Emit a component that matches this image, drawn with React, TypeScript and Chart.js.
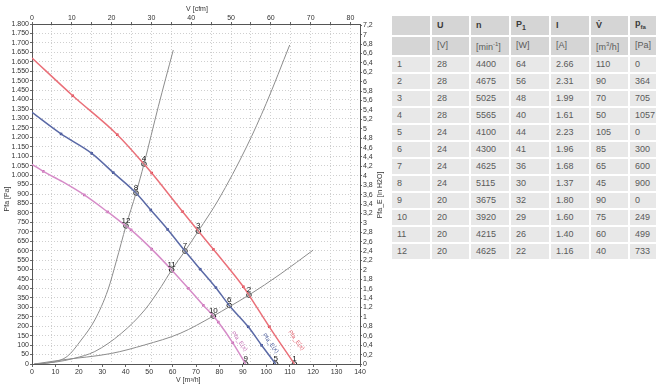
import React, { useEffect, useRef } from 'react';
import { Chart, registerables } from 'chart.js';

Chart.register(...registerables);

const PA_PER_INH2O = 249.0889;
const M3H_PER_CFM = 1.699;

// Fan curves (flow m³/h, static pressure Pa)
const redCurveFlow = [0, 17.4, 36.4, 47.8, 51.1, 64.3, 71, 77.4, 90.2, 92.6, 101.3, 112];
const redCurvePa = [1620, 1420, 1214, 1059, 1011, 806, 704, 607, 409, 365, 197, 0];
const redMarkFlow = [17.4, 36.4, 51.1, 64.3, 77.4, 90.2, 101.3];
const redMarkPa = [1420, 1214, 1011, 806, 607, 409, 197];

const blueCurveFlow = [0, 12.4, 25.5, 34.7, 44.4, 50.7, 57.9, 65.3, 71.8, 78.5, 84.2, 92.3, 98, 104];
const blueCurvePa = [1332, 1218, 1115, 1013, 905, 815, 712, 598, 502, 404, 310, 197, 99, 0];
const blueMarkFlow = [12.4, 25.5, 34.7, 50.7, 57.9, 71.8, 78.5, 92.3, 98];
const blueMarkPa = [1218, 1115, 1013, 815, 712, 502, 404, 197, 99];

const pinkCurveFlow = [0, 4.8, 13, 22.3, 32.3, 40.1, 42.3, 51.1, 59.6, 66.7, 73.1, 77.4, 79.5, 85.7, 91.2];
const pinkCurvePa = [1057, 1020, 965, 895, 805, 731, 710, 608, 498, 401, 311, 254, 222, 112, 0];
const pinkMarkFlow = [4.8, 22.3, 32.3, 42.3, 51.1, 66.7, 73.1, 79.5, 85.7];
const pinkMarkPa = [1020, 895, 805, 710, 608, 401, 311, 222, 112];

// System (resistance) curves
const sysAFlow = [1, 8, 15, 21, 26.8, 32.4, 36, 40.1, 44.4, 47.8, 53.9, 60.3];
const sysAPa = [0, 8, 40, 127, 233, 392, 545, 731, 905, 1059, 1362, 1662];
const sysBFlow = [1, 10, 18, 26.8, 38.1, 48.1, 55.2, 59.6, 65.3, 71, 79.5, 91.6, 100, 110];
const sysBPa = [0, 10, 30, 66, 162, 286, 410, 498, 598, 704, 868, 1150, 1380, 1689];
const sysCFlow = [1, 12.5, 33.9, 48.1, 63.2, 77.4, 84.2, 92.6, 105.9, 120];
const sysCPa = [0, 21, 56, 101, 162, 254, 303, 365, 475, 603];

// Operating points
const opLabels = ['1', '2', '3', '4', '5', '6', '7', '8', '9', '10', '11', '12'];
const opFlow = [112, 92.6, 71, 47.8, 104, 84.2, 65.3, 44.4, 91.2, 77.4, 59.6, 40.1];
const opPa = [0, 365, 704, 1059, 0, 310, 598, 905, 0, 254, 498, 731];

// Curve name labels
const curveNames = ['Pfa_E(x)', 'Pfa_E(x)', 'Pfa_E(x)'];
const curveNameFlow = [88.5, 101.8, 112.8];
const curveNamePa = [120, 110, 125];

// Table
const tableNo = ['1', '2', '3', '4', '5', '6', '7', '8', '9', '10', '11', '12'];
const tableU = [28, 28, 28, 28, 24, 24, 24, 24, 20, 20, 20, 20];
const tableN = [4400, 4675, 5025, 5565, 4100, 4300, 4625, 5115, 3675, 3920, 4215, 4625];
const tableP1 = [64, 56, 48, 40, 44, 41, 36, 30, 32, 29, 26, 22];
const tableI = ['2.66', '2.31', '1.99', '1.61', '2.23', '1.96', '1.68', '1.37', '1.80', '1.60', '1.40', '1.16'];
const tableV = [110, 90, 70, 50, 105, 85, 65, 45, 90, 75, 60, 40];
const tablePfa = [0, 364, 705, 1057, 0, 300, 600, 900, 0, 249, 499, 733];

const FONT = "'Liberation Sans', Arial, sans-serif";

const pts = (xs: number[], ys: number[]) => xs.map((x, i) => ({ x, y: ys[i] }));

const fmtPa = (v: number) => {
  const r = Math.round(v);
  if (r >= 1000) return Math.floor(r / 1000) + '.' + String(r % 1000).padStart(3, '0');
  return String(r);
};
const fmtIn = (v: number) => String(Math.round(v * 10) / 10).replace('.', ',');

const overlayPlugin = {
  id: 'overlay',
  afterDatasetsDraw(chart: any) {
    const { ctx } = chart;
    const xs = chart.scales.x;
    const ys = chart.scales.y;
    ctx.save();
    ctx.fillStyle = '#111';
    ctx.font = `8px ${FONT}`;
    ctx.textAlign = 'center';
    ctx.textBaseline = 'alphabetic';
    opLabels.forEach((l, i) => {
      const px = xs.getPixelForValue(opFlow[i]);
      const py = ys.getPixelForValue(opPa[i]);
      ctx.fillText(l, px, py - 3);
    });
    const colors = ['#c46fb5', '#4b5c9c', '#e0606c'];
    ctx.font = `6px ${FONT}`;
    curveNames.forEach((n, i) => {
      const px = xs.getPixelForValue(curveNameFlow[i]);
      const py = ys.getPixelForValue(curveNamePa[i]);
      ctx.save();
      ctx.translate(px, py);
      ctx.rotate((53 * Math.PI) / 180);
      ctx.fillStyle = colors[i];
      ctx.textAlign = 'center';
      ctx.textBaseline = 'middle';
      ctx.fillText(n, 0, 0);
      ctx.restore();
    });
    ctx.restore();
  },
  afterDraw(chart: any) {
    const { ctx } = chart;
    ctx.save();
    ctx.fillStyle = '#333';
    ctx.font = `7px ${FONT}`;
    ctx.textBaseline = 'middle';
    ctx.textAlign = 'center';
    ctx.fillText('V [cfm]', 197, 9);
    ctx.textAlign = 'left';
    ctx.fillText('V [m³/h]', 176, 380);
    ctx.textAlign = 'center';
    ctx.save();
    ctx.translate(7, 199);
    ctx.rotate(-Math.PI / 2);
    ctx.fillText('Pfa [Pa]', 0, 0);
    ctx.restore();
    ctx.save();
    ctx.translate(380, 195);
    ctx.rotate(-Math.PI / 2);
    ctx.fillText('Pfa_E [in H2O]', 0, 0);
    ctx.restore();
    ctx.restore();
  },
};

function FanChart() {
  const ref = useRef<HTMLCanvasElement>(null);
  useEffect(() => {
    if (!ref.current) return;
    const tickFont = { family: FONT, size: 7 };
    const lineDs = (label: string, xs: number[], ys: number[], color: string, width: number) => ({
      label,
      data: pts(xs, ys),
      showLine: true,
      borderColor: color,
      backgroundColor: color,
      borderWidth: width,
      pointRadius: 0,
      tension: 0.35,
      cubicInterpolationMode: 'monotone' as const,
    });
    const markDs = (label: string, xs: number[], ys: number[], color: string) => ({
      label,
      data: pts(xs, ys),
      showLine: false,
      pointStyle: 'rect' as const,
      pointRadius: 1.8,
      borderWidth: 0,
      backgroundColor: color,
      borderColor: color,
    });
    const chart = new Chart(ref.current, {
      type: 'scatter',
      data: {
        datasets: [
          lineDs('sysA', sysAFlow, sysAPa, '#8c8c8c', 1),
          lineDs('sysB', sysBFlow, sysBPa, '#8c8c8c', 1),
          lineDs('sysC', sysCFlow, sysCPa, '#8c8c8c', 1),
          lineDs('20 V', pinkCurveFlow, pinkCurvePa, '#d68cc8', 1.5),
          lineDs('24 V', blueCurveFlow, blueCurvePa, '#5a69a6', 1.5),
          lineDs('28 V', redCurveFlow, redCurvePa, '#ea6f78', 1.5),
          markDs('20 V m', pinkMarkFlow, pinkMarkPa, '#c45aac'),
          markDs('24 V m', blueMarkFlow, blueMarkPa, '#3a4a96'),
          markDs('28 V m', redMarkFlow, redMarkPa, '#d83a48'),
          {
            label: 'op',
            data: pts(opFlow, opPa),
            showLine: false,
            pointStyle: 'circle',
            pointRadius: 2.3,
            borderWidth: 1,
            borderColor: '#222',
            backgroundColor: 'rgba(255,255,255,0.9)',
          },
        ],
      },
      options: {
        animation: false,
        responsive: false,
        maintainAspectRatio: false,
        layout: { padding: 0, autoPadding: false },
        plugins: { legend: { display: false }, tooltip: { enabled: false } },
        scales: {
          x: {
            type: 'linear',
            position: 'bottom',
            min: 0,
            max: 140,
            afterFit: (s: any) => { s.height = 21; },
            ticks: { stepSize: 10, font: tickFont, color: '#333', padding: 1, maxRotation: 0, autoSkip: false, includeBounds: false },
            grid: { drawOnChartArea: false, tickLength: 3, color: '#666', tickColor: '#666' },
            border: { display: true, color: '#555', width: 1 },
          },
          x2: {
            type: 'linear',
            position: 'top',
            min: 0,
            max: 140 / M3H_PER_CFM,
            afterFit: (s: any) => { s.height = 24; },
            ticks: {
              stepSize: 5,
              font: tickFont,
              color: '#333',
              padding: 0,
              maxRotation: 0,
              autoSkip: false,
              includeBounds: false,
              callback: (v: any) => (Math.round(v) % 10 === 0 ? String(Math.round(v)) : ''),
            },
            grid: { drawOnChartArea: true, color: '#cfcfcf', tickLength: 2, tickColor: '#666', lineWidth: 1 },
            border: { display: true, color: '#555', width: 1, dash: [1, 2] },
          },
          y: {
            type: 'linear',
            position: 'left',
            min: 0,
            max: 1800,
            afterFit: (s: any) => { s.width = 32; },
            ticks: { stepSize: 50, font: tickFont, color: '#333', padding: 1, autoSkip: false, includeBounds: false, callback: (v: any) => fmtPa(Number(v)) },
            grid: { drawOnChartArea: true, color: '#cfcfcf', tickLength: 2, tickColor: '#666' },
            border: { display: true, color: '#555', width: 1, dash: [1, 2] },
          },
          y2: {
            type: 'linear',
            position: 'right',
            min: 0,
            max: 1800 / PA_PER_INH2O,
            afterFit: (s: any) => { s.width = 25; },
            ticks: { stepSize: 0.2, font: tickFont, color: '#333', padding: 1, autoSkip: false, includeBounds: false, callback: (v: any) => fmtIn(Number(v)) },
            grid: { drawOnChartArea: false, tickLength: 2, color: '#666', tickColor: '#666' },
            border: { display: true, color: '#555', width: 1 },
          },
        },
      } as any,
      plugins: [overlayPlugin],
    });
    return () => chart.destroy();
  }, []);
  return <canvas ref={ref} width={385} height={385} style={{ position: 'absolute', left: 0, top: 0, width: 385, height: 385 }} />;
}

const cellBase: React.CSSProperties = {
  borderRight: '2px solid #fff',
  borderBottom: '2px solid #fff',
  padding: '0 0 0 5px',
  height: 15,
  lineHeight: '15px',
  textAlign: 'left',
  whiteSpace: 'nowrap',
  overflow: 'hidden',
};

function DataTable() {
  const widths = [40, 39, 40, 40, 40, 39, 28];
  const head1: React.ReactNode[] = [
    '',
    'U',
    'n',
    <span>P<sub style={{ fontSize: '7px' }}>1</sub></span>,
    'I',
    'V̇',
    <span>p<sub style={{ fontSize: '6px' }}>fa</sub></span>,
  ];
  const head2: React.ReactNode[] = [
    '',
    '[V]',
    <span>[min<sup style={{ fontSize: '6px' }}>-1</sup>]</span>,
    '[W]',
    '[A]',
    <span>[m<sup style={{ fontSize: '6px' }}>3</sup>/h]</span>,
    '[Pa]',
  ];
  const rows = tableNo.map((n, i) => [n, tableU[i], tableN[i], tableP1[i], tableI[i], tableV[i], tablePfa[i]]);
  return (
    <table
      style={{
        position: 'absolute',
        left: 392,
        top: 16,
        borderCollapse: 'separate',
        borderSpacing: 0,
        tableLayout: 'fixed',
        width: 266,
        fontFamily: FONT,
        fontSize: '9px',
        color: '#5a5a5a',
      }}
    >
      <colgroup>
        {widths.map((w, i) => (
          <col key={i} style={{ width: w }} />
        ))}
      </colgroup>
      <tbody>
        <tr>
          {head1.map((h, i) => (
            <td key={i} style={{ ...cellBase, background: '#d5d5d5', fontWeight: 'bold', color: '#3a3a3a' }}>{h}</td>
          ))}
        </tr>
        <tr>
          {head2.map((h, i) => (
            <td key={i} style={{ ...cellBase, background: '#d5d5d5' }}>{h}</td>
          ))}
        </tr>
        {rows.map((r, ri) => (
          <tr key={ri}>
            {r.map((c, ci) => (
              <td key={ci} style={{ ...cellBase, background: '#e8e8e8' }}>{c}</td>
            ))}
          </tr>
        ))}
      </tbody>
    </table>
  );
}

export default function App() {
  return (
    <div style={{ position: 'absolute', left: 0, top: 0, width: 664, height: 385, background: '#fff', overflow: 'hidden' }}>
      <FanChart />
      <DataTable />
    </div>
  );
}
